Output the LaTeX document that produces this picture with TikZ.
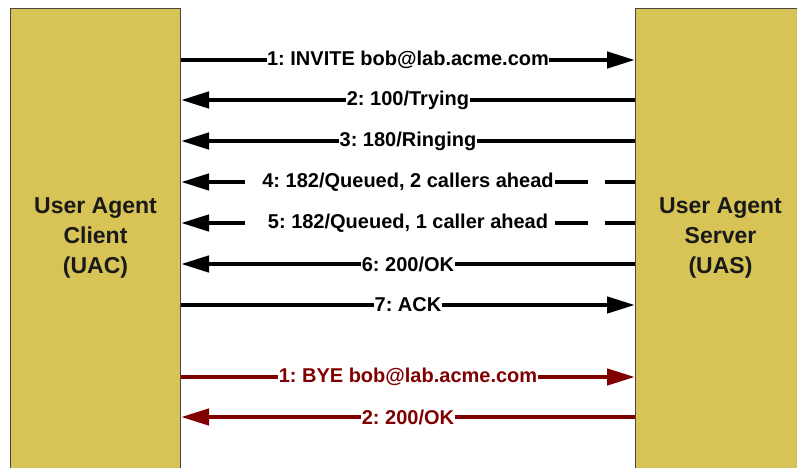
\documentclass[tikz,border=0pt]{standalone}
\usepackage{fontspec}
\setmainfont{Liberation Sans}
\frenchspacing
\usetikzlibrary{positioning, arrows.meta, calc}
\definecolor{cY}{RGB}{216,196,86}
\definecolor{cR}{RGB}{128,0,0}
\definecolor{cG}{RGB}{70,70,70}

\begin{document}
\begin{tikzpicture}[x=1pt, y=-1pt,
    agent/.style={draw=cG, line width=1pt, fill=cY, minimum width=170pt, minimum height=480pt, anchor=north west, inner sep=0pt},
    agenttext/.style={font=\fontsize{23}{30}\selectfont\bfseries, align=center, text=black!90},
    msg/.style={line width=4.5pt, -{Triangle[length=28pt, width=16pt]}},
    msglabel/.style={font=\fontsize{20}{24}\selectfont\bfseries, fill=white, inner sep=0.5pt},
    gapped/.style={dash pattern=on 30pt off 17pt on 33pt off 310pt on 80pt}]
    \useasboundingbox (0,0) rectangle (797,468);
    \node[agent] (uac) at (10,8) {};
    \node[agent] (uas) at (635,8) {};
    \node[agenttext] (uacname) at (uac.north |- 0,238) {User Agent\\Client\\(UAC)};
    \node[agenttext] (uasname) at (uas.north |- 0,238) {User Agent\\Server\\(UAS)};

    \draw[msg] (uac.east |- 0,60) -- node[msglabel] {1: INVITE bob@lab.acme.com} (uas.west |- 0,60);
    \draw[msg] (uas.west |- 0,100) -- node[msglabel] {2: 100/Trying} (uac.east |- 0,100);
    \draw[msg] (uas.west |- 0,141) -- node[msglabel] {3: 180/Ringing} (uac.east |- 0,141);
    \draw[msg, gapped] (uas.west |- 0,182) -- node[msglabel] {4: 182/Queued, 2 callers ahead} (uac.east |- 0,182);
    \draw[msg, gapped] (uas.west |- 0,223) -- node[msglabel] {5: 182/Queued, 1 caller ahead} (uac.east |- 0,223);
    \draw[msg] (uas.west |- 0,264) -- node[msglabel] {6: 200/OK} (uac.east |- 0,264);
    \draw[msg] (uac.east |- 0,305) -- node[msglabel] {7: ACK} (uas.west |- 0,305);

    \draw[msg, cR] (uac.east |- 0,377) -- node[msglabel, text=cR] {1: BYE bob@lab.acme.com} (uas.west |- 0,377);
    \draw[msg, cR] (uas.west |- 0,417) -- node[msglabel, text=cR] {2: 200/OK} (uac.east |- 0,417);
\end{tikzpicture}
\end{document}
